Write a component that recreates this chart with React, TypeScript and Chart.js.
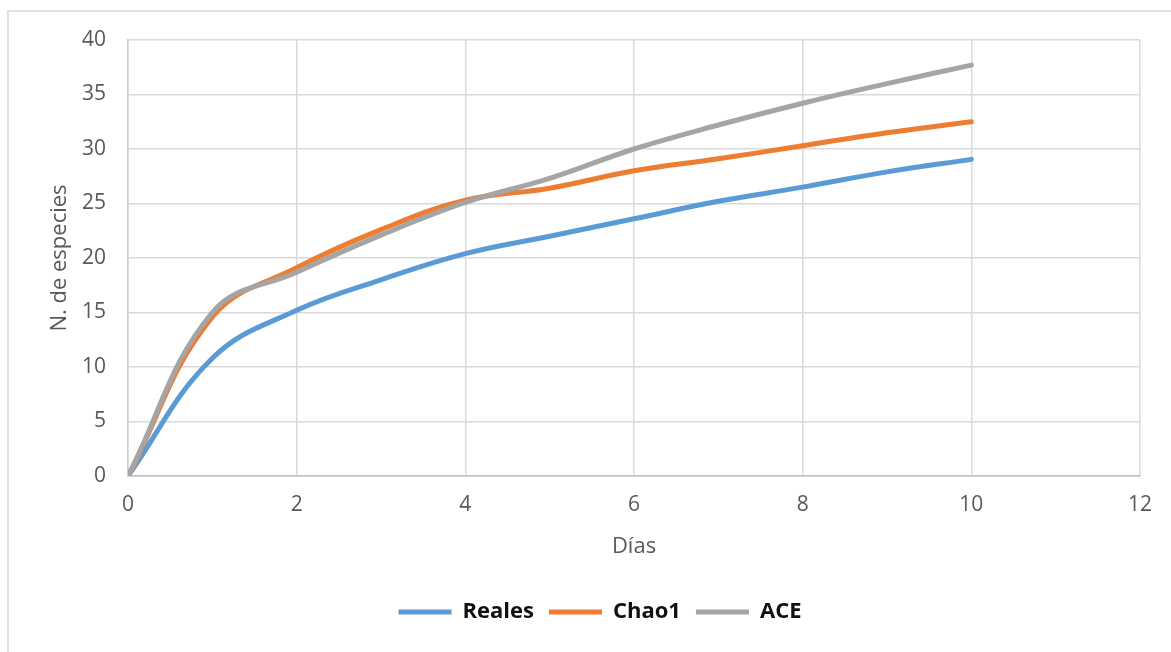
import React, { useEffect, useRef } from "react";
import { Chart, registerables } from "chart.js";

Chart.register(...registerables);

const dias = [0, 1, 2, 3, 4, 5, 6, 7, 8, 9, 10];
const reales = [0, 10.8, 15.2, 18.0, 20.4, 22.0, 23.6, 25.2, 26.5, 27.9, 29.05];
const chao1 = [0, 14.6, 19.1, 22.6, 25.3, 26.4, 28.0, 29.1, 30.3, 31.5, 32.5];
const ace = [0, 15.0, 18.7, 22.1, 25.1, 27.3, 30.0, 32.2, 34.2, 36.0, 37.7];

const seriesNames = ["Reales", "Chao1", "ACE"];
const seriesColors = ["#5B9BD5", "#ED7D31", "#A5A5A5"];
const xTitle = "Días";
const yTitle = "N. de especies";

const FONT = "'Open Sans', 'Liberation Sans', sans-serif";

export default function App() {
  const ref = useRef<HTMLCanvasElement | null>(null);

  useEffect(() => {
    if (!ref.current) return;
    const values = [reales, chao1, ace];
    const datasets = values.map((vals, i) => ({
      label: seriesNames[i],
      data: dias.map((d, j) => ({ x: d, y: vals[j] })),
      borderColor: seriesColors[i],
      backgroundColor: seriesColors[i],
      borderWidth: 5,
      borderCapStyle: "round" as const,
      borderJoinStyle: "round" as const,
      pointRadius: 0,
      pointHoverRadius: 0,
      pointStyle: "line" as const,
      tension: 0.4,
      fill: false,
      order: 3 - i,
    }));

    const chart = new Chart(ref.current, {
      type: "line",
      data: { datasets },
      options: {
        animation: false,
        responsive: false,
        maintainAspectRatio: false,
        layout: { padding: { left: 60, right: 31, top: 40, bottom: 19 } },
        plugins: {
          tooltip: { enabled: false },
          legend: {
            position: "bottom",
            labels: {
              usePointStyle: true,
              pointStyle: "line",
              pointStyleWidth: 53,
              padding: 15,
              color: "#111111",
              font: { family: FONT, size: 22, weight: "bold" },
              sort: (a: any, b: any) => a.datasetIndex - b.datasetIndex,
            },
          },
        },
        scales: {
          x: {
            type: "linear",
            min: 0,
            max: 12,
            ticks: {
              stepSize: 2,
              color: "#595959",
              padding: 16,
              font: { family: FONT, size: 21 },
            },
            grid: { color: "#d9d9d9", lineWidth: 1.5, drawTicks: false },
            border: { color: "#bfbfbf", width: 1.5 },
            title: {
              display: true,
              text: xTitle,
              color: "#595959",
              font: { family: FONT, size: 22 },
              padding: { top: 0, bottom: 26 },
            },
            afterFit: (scale: any) => {
              scale.height = 110;
            },
          },
          y: {
            min: 0,
            max: 40,
            ticks: {
              stepSize: 5,
              color: "#595959",
              padding: 22,
              font: { family: FONT, size: 21 },
            },
            grid: { color: "#d9d9d9", lineWidth: 1.5, drawTicks: false },
            border: { color: "#cfcfcf", width: 1.5 },
            title: {
              display: true,
              text: yTitle,
              color: "#595959",
              font: { family: FONT, size: 22 },
              padding: { top: -13.2, bottom: 0 },
            },
            afterFit: (scale: any) => {
              scale.width = 68;
            },
          },
        },
      },
    });
    return () => chart.destroy();
  }, []);

  return (
    <div style={{ position: "fixed", inset: 0, overflow: "hidden", background: "#ffffff" }}>
      <div
        style={{
          position: "absolute",
          left: 7,
          top: 10,
          width: 1300,
          height: 800,
          border: "2px solid #e0e0e0",
          boxSizing: "border-box",
        }}
      />
      <canvas
        ref={ref}
        width={1171}
        height={652}
        style={{ position: "absolute", left: 0, top: 0, width: 1171, height: 652 }}
      />
    </div>
  );
}
